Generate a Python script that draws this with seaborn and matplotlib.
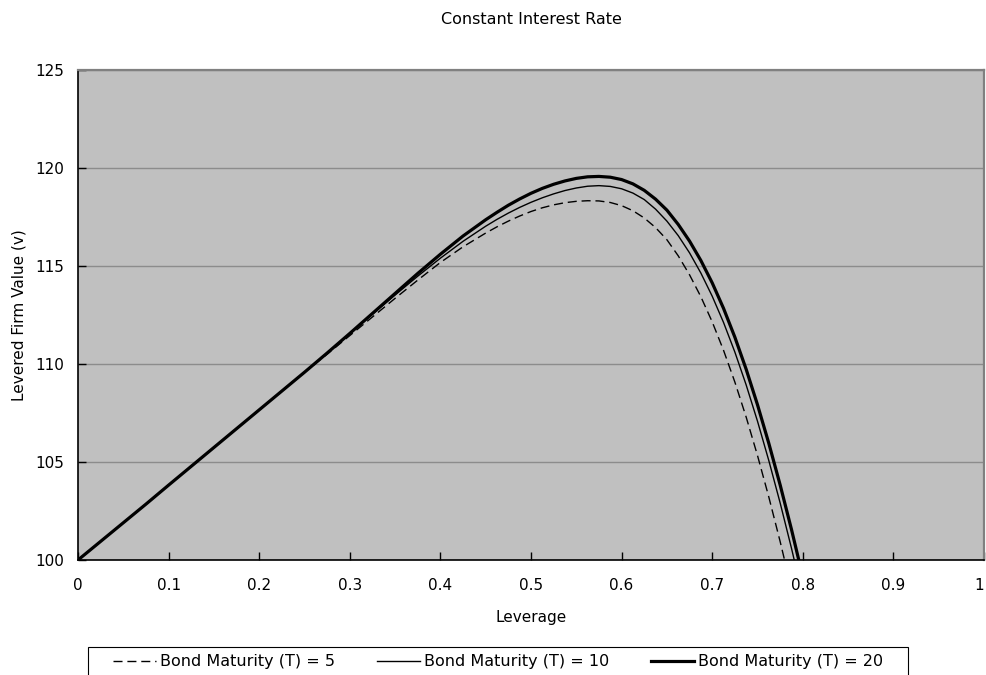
import seaborn as sns
import pandas as pd
import matplotlib.pyplot as plt
import matplotlib.patches as mpatches
import numpy as np

# leverage grid (finer where the curves bend) and firm values
leverage = [0.000, 0.025, 0.050, 0.075, 0.100, 0.125, 0.150, 0.175, 0.200, 0.225,
            0.250, 0.275, 0.300, 0.325, 0.350, 0.375, 0.400, 0.425, 0.450,
            0.4625, 0.4750, 0.4875, 0.5000, 0.5125, 0.5250, 0.5375, 0.5500, 0.5625, 0.5750,
            0.5875, 0.6000, 0.6125, 0.6250, 0.6375, 0.6500, 0.6625, 0.6750, 0.6875, 0.7000,
            0.7125, 0.7250, 0.7375, 0.7500, 0.7625, 0.7750, 0.7875, 0.8000]

value_t5 = [100.00, 100.95, 101.90, 102.85, 103.82, 104.78, 105.74, 106.70, 107.66, 108.62,
            109.58, 110.50, 111.45, 112.40, 113.35, 114.28, 115.18, 115.98, 116.68,
            117.00, 117.29, 117.55, 117.78, 117.97, 118.12, 118.23, 118.30, 118.33, 118.32,
            118.24, 118.08, 117.82, 117.45, 116.96, 116.34, 115.52, 114.55, 113.43, 112.15,
            110.70, 109.08, 107.29, 105.33, 103.21, 100.94, 98.52, 95.96]

value_t10 = [100.00, 100.95, 101.90, 102.85, 103.82, 104.78, 105.74, 106.70, 107.66, 108.62,
             109.58, 110.56, 111.54, 112.54, 113.52, 114.48, 115.40, 116.26, 117.03,
             117.38, 117.70, 117.99, 118.25, 118.48, 118.68, 118.85, 118.98, 119.07, 119.10,
             119.06, 118.94, 118.72, 118.39, 117.90, 117.29, 116.55, 115.67, 114.64, 113.46,
             112.12, 110.61, 108.93, 107.08, 105.07, 102.91, 100.60, 98.14]

value_t20 = [100.00, 100.95, 101.90, 102.85, 103.82, 104.78, 105.74, 106.70, 107.66, 108.62,
             109.58, 110.56, 111.56, 112.58, 113.60, 114.62, 115.60, 116.53, 117.36,
             117.74, 118.10, 118.42, 118.71, 118.96, 119.17, 119.34, 119.47, 119.55, 119.57,
             119.53, 119.41, 119.19, 118.86, 118.41, 117.85, 117.12, 116.27, 115.28, 114.14,
             112.84, 111.37, 109.73, 107.92, 105.95, 103.83, 101.56, 99.14]

x_ticklabels = ["0", "0.1", "0.2", "0.3", "0.4", "0.5", "0.6", "0.7", "0.8", "0.9", "1"]

series = [
    ("Bond Maturity (T) = 5", value_t5, (0, (6.5, 3.5)), 1.0),
    ("Bond Maturity (T) = 10", value_t10, "-", 1.0),
    ("Bond Maturity (T) = 20", value_t20, "-", 2.3),
]

plt.rcParams['font.family'] = ['DejaVu Sans']

fig = plt.figure(figsize=(9.86, 6.75), dpi=100)
ax = fig.add_axes([78 / 986, 1 - 560 / 675, 906 / 986, 490 / 675])
ax.set_facecolor("#c0c0c0")

for label, vals, ls, lw in series:
    df = pd.DataFrame({"Leverage": leverage, "Value": vals})
    sns.lineplot(data=df, x="Leverage", y="Value", ax=ax, color="black",
                 linestyle=ls, linewidth=lw, label=label, legend=False,
                 solid_joinstyle="round", dash_joinstyle="round")

ax.set_xlim(0, 1)
ax.set_ylim(100, 125)
ax.set_xticks(np.arange(0, 1.01, 0.1))
ax.set_xticklabels(x_ticklabels)
ax.get_xticklabels()[-1].set_horizontalalignment("right")
ax.set_yticks([100, 105, 110, 115, 120, 125])
ax.yaxis.grid(True, color="#8c8c8c", linewidth=1)
ax.set_axisbelow(True)
ax.tick_params(axis="both", direction="in", length=6, width=1, labelsize=11, colors="black")
ax.tick_params(axis="x", pad=13)
ax.tick_params(axis="y", pad=10)

for side in ["left", "bottom"]:
    ax.spines[side].set_color("black")
    ax.spines[side].set_linewidth(1.2)
for side in ["top", "right"]:
    ax.spines[side].set_color("#808080")
    ax.spines[side].set_linewidth(1.6)

ax.set_xlabel("Leverage", fontsize=11, labelpad=12)
ax.set_ylabel("Levered Firm Value (v)", fontsize=11, labelpad=6)
fig.text(531 / 986, 1 - 19 / 675, "Constant Interest Rate", ha="center", va="center", fontsize=11.5)

handles, labels = ax.get_legend_handles_labels()
leg = fig.legend(handles, labels, loc="upper center", bbox_to_anchor=(498 / 986, 1 - 647 / 675),
                 ncol=3, fontsize=11.5, frameon=False, handlelength=2.7,
                 handletextpad=0.25, columnspacing=2.6, borderpad=0.45, borderaxespad=0)

# legend box, wider than the entries like the original
box = mpatches.Rectangle((88 / 986, -0.01), 820 / 986, 1 - 647 / 675 + 0.01,
                         transform=fig.transFigure, facecolor="white", edgecolor="black",
                         linewidth=0.8, zorder=0)
fig.patches.append(box)

fig.savefig("out.png", dpi=100)
